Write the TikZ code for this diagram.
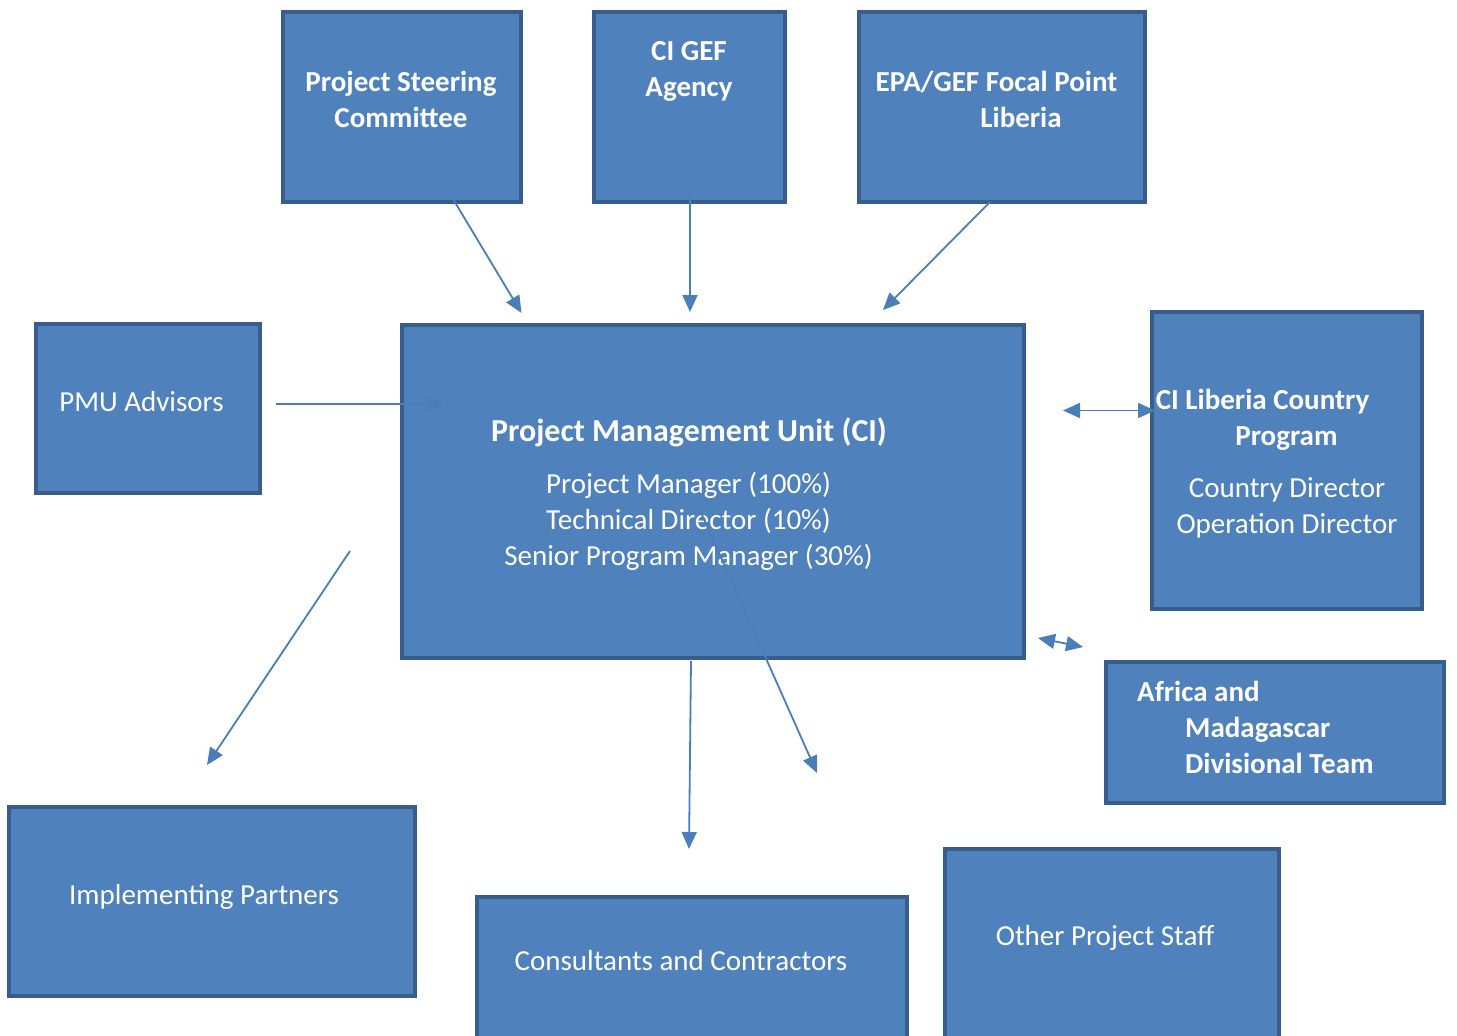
\documentclass[tikz,border=0pt]{standalone}
\usepackage{fontspec}
\setmainfont{Carlito}
\usetikzlibrary{arrows.meta}
\definecolor{boxfill}{HTML}{4F81BD}
\definecolor{boxline}{HTML}{385D8A}
\definecolor{arrowc}{HTML}{4A7EBB}
\begin{document}
\begin{tikzpicture}[x=1pt,y=-1pt,
  box/.style={draw=boxline,fill=boxfill,line width=4.5pt,rectangle,inner sep=0pt,outer sep=0pt},
  lbl/.style={text=white,inner sep=0pt,anchor=base,font=\fontsize{29}{36}\selectfont},
  blbl/.style={lbl,font=\fontsize{29}{36}\selectfont\bfseries},
  tlbl/.style={lbl,font=\fontsize{32}{38}\selectfont\bfseries},
  conn/.style={draw=arrowc,line width=1.8pt,-{Triangle[length=17pt,width=15pt]}},
  bconn/.style={draw=arrowc,line width=1.8pt,{Triangle[length=17pt,width=15pt]}-{Triangle[length=17pt,width=15pt]}}
]
\useasboundingbox (0,0) rectangle (1457,1036);
\begin{scope}
\clip (0,0) rectangle (1457,1036);
% boxes
\node[box,minimum width=238pt,minimum height=190pt] (psc) at (402,107) {};
\node[box,minimum width=191pt,minimum height=190pt] (gef) at (689.5,107) {};
\node[box,minimum width=286pt,minimum height=190pt] (epa) at (1002,107) {};
\node[box,minimum width=224pt,minimum height=169pt] (adv) at (148,408.5) {};
\node[box,minimum width=622pt,minimum height=333pt] (pmu) at (713,491.5) {};
\node[box,minimum width=270pt,minimum height=297pt] (cil) at (1287,460.5) {};
\node[box,minimum width=338pt,minimum height=141pt] (afr) at (1275,732.5) {};
\node[box,minimum width=406pt,minimum height=189pt] (imp) at (212,901.5) {};
\node[box,minimum width=430pt,minimum height=151pt] (con) at (692,972.5) {};
\node[box,minimum width=334pt,minimum height=199pt] (oth) at (1112,948.5) {};
\end{scope}
% texts
\node[blbl] (psc1) at (401,91) {Project Steering};
\node[blbl] (psc2) at (401,127) {Committee};
\node[blbl] (gef1) at (689,60) {CI GEF};
\node[blbl] (gef2) at (689,96) {Agency};
\node[blbl] (epa1) at (996.5,91) {EPA/GEF Focal Point};
\node[blbl] (epa2) at (1021,127) {Liberia};
\node[lbl] (adv1) at (141.5,411) {PMU Advisors};
\node[tlbl] (pmu0) at (689,441) {Project Management Unit (CI)};
\node[lbl] (pmu1) at (688.5,493) {Project Manager (100\%)};
\node[lbl] (pmu2) at (688.5,529) {Technical Director (10\%)};
\node[lbl] (pmu3) at (688.5,565) {Senior Program Manager (30\%)};
\node[blbl] (cil1) at (1262.5,409) {CI Liberia Country};
\node[blbl] (cil2) at (1286.5,445) {Program};
\node[lbl] (cil3) at (1287,497) {Country Director};
\node[lbl] (cil4) at (1287,533) {Operation Director};
\node[blbl,anchor=base west] (afr1) at (1137,701) {Africa and};
\node[blbl,anchor=base west] (afr2) at (1185,737) {Madagascar};
\node[blbl,anchor=base west] (afr3) at (1185,773) {Divisional Team};
\node[lbl] (imp1) at (204,904) {Implementing Partners};
\node[lbl] (con1) at (681,970) {Consultants and Contractors};
\node[lbl] (oth1) at (1105,945) {Other Project Staff};
% connector end points
\coordinate (a1s) at (453,199); \coordinate (a1e) at (521.5,313);
\coordinate (a2s) at (690,193); \coordinate (a2e) at (690,312);
\coordinate (a3s) at (990,202); \coordinate (a3e) at (883,310);
\coordinate (a4s) at (276,404); \coordinate (a4e) at (444,404);
\coordinate (a5s) at (1063,410.5); \coordinate (a5e) at (1155,410.5);
\coordinate (a6s) at (1038,638); \coordinate (a6e) at (1083,647);
\coordinate (a7s) at (350,551); \coordinate (a7e) at (207,765);
\coordinate (a8s) at (691,661); \coordinate (a8e) at (689,849);
\coordinate (a9s) at (699,508); \coordinate (a9e) at (817,773);
% connectors
\draw[conn] (a1s) -- (a1e);
\draw[conn] (a2s) -- (a2e);
\draw[conn] (a3s) -- (a3e);
\draw[conn] (a4s) -- (a4e);
\draw[bconn] (a5s) -- (a5e);
\draw[bconn] (a6s) -- (a6e);
\draw[conn] (a7s) -- (a7e);
\draw[conn] (a8s) -- (a8e);
\draw[conn] (a9s) -- (a9e);
\end{tikzpicture}
\end{document}
